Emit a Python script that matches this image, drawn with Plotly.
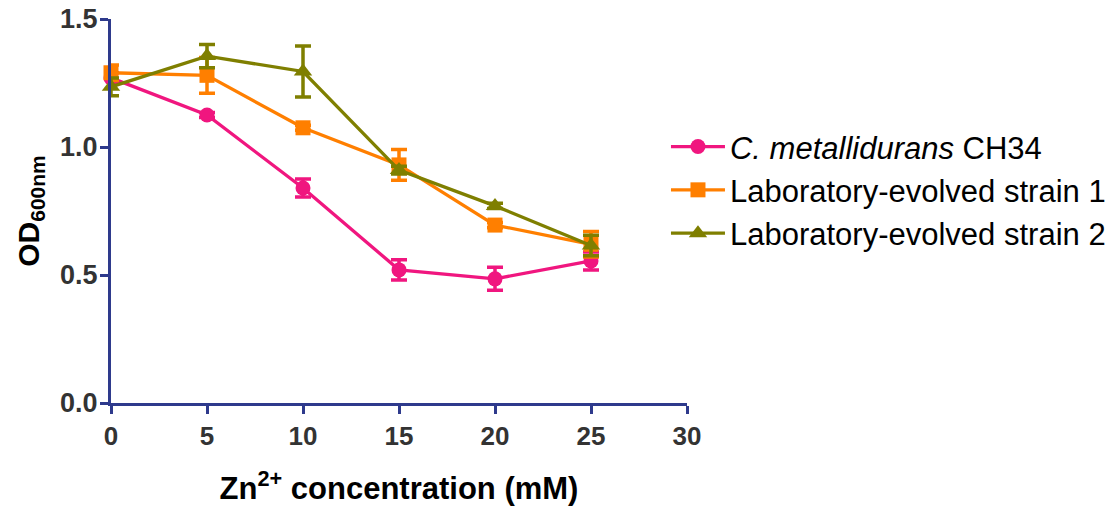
import plotly.graph_objects as go

zn = [0, 5, 10, 15, 20, 25]

names = ["<i>C. metallidurans</i> CH34",
         "Laboratory-evolved strain 1",
         "Laboratory-evolved strain 2"]

ch34 = [1.27, 1.125, 0.84, 0.52, 0.485, 0.555]
ch34_err = [0.02, 0.01, 0.035, 0.04, 0.045, 0.035]

strain1 = [1.29, 1.28, 1.075, 0.93, 0.695, 0.62]
strain1_err = [0.03, 0.07, 0.01, 0.06, 0.01, 0.05]

strain2 = [1.235, 1.355, 1.295, 0.91, 0.77, 0.615]
strain2_err = [0.035, 0.045, 0.10, 0.015, 0.01, 0.04]

colors = ["#F0167F", "#FF7F00", "#7F7F00"]
symbols = ["circle", "square", "triangle-up"]

fig = go.Figure()
for name, ys, errs, c, s in zip(names, [ch34, strain1, strain2],
                                [ch34_err, strain1_err, strain2_err], colors, symbols):
    fig.add_trace(go.Scatter(
        x=zn, y=ys, name=name, mode="lines+markers",
        line=dict(color=c, width=3.3),
        marker=dict(color=c, symbol=s, size=15 if s != "triangle-up" else 16),
        error_y=dict(type="data", array=errs, visible=True, color=c, thickness=3.5, width=8),
        cliponaxis=False,
    ))

axis_color = "#2E3A8C"

fig.update_layout(
    width=1112, height=506,
    margin=dict(l=111, r=425, t=19, b=103, autoexpand=False),
    plot_bgcolor="white", paper_bgcolor="white",
    font=dict(family="Liberation Sans"),
    legend=dict(
        x=0.9635, y=0.555, xanchor="left", yanchor="middle",
        font=dict(family="Liberation Sans", size=31, color="black"),
        bgcolor="rgba(0,0,0,0)", itemwidth=54, tracegroupgap=0,
    ),
    xaxis=dict(
        range=[0, 30], tickvals=[0, 5, 10, 15, 20, 25, 30],
        showline=True, linecolor=axis_color, linewidth=3,
        ticks="outside", ticklen=8, tickwidth=3, tickcolor=axis_color,
        showgrid=False, zeroline=False, automargin=False,
        tickfont=dict(family="Liberation Sans", size=26, color="#333333", weight="bold"),
        title=dict(text="Zn<sup>2+</sup> concentration (mM)", standoff=28,
                   font=dict(family="Liberation Sans", size=31, color="black", weight="bold")),
    ),
    yaxis=dict(
        range=[0, 1.5], tickvals=[0, 0.5, 1.0, 1.5], tickformat=".1f",
        showline=True, linecolor=axis_color, linewidth=3,
        ticks="outside", ticklen=8, tickwidth=3, tickcolor=axis_color,
        showgrid=False, zeroline=False, automargin=False,
        ticklabelstandoff=-3,
        tickfont=dict(family="Liberation Sans", size=27, color="#333333", weight="bold"),
        title=dict(text="OD<sub>600nm</sub>", standoff=12,
                   font=dict(family="Liberation Sans", size=30, color="black", weight="bold")),
    ),
)

fig.write_html("out.html")
